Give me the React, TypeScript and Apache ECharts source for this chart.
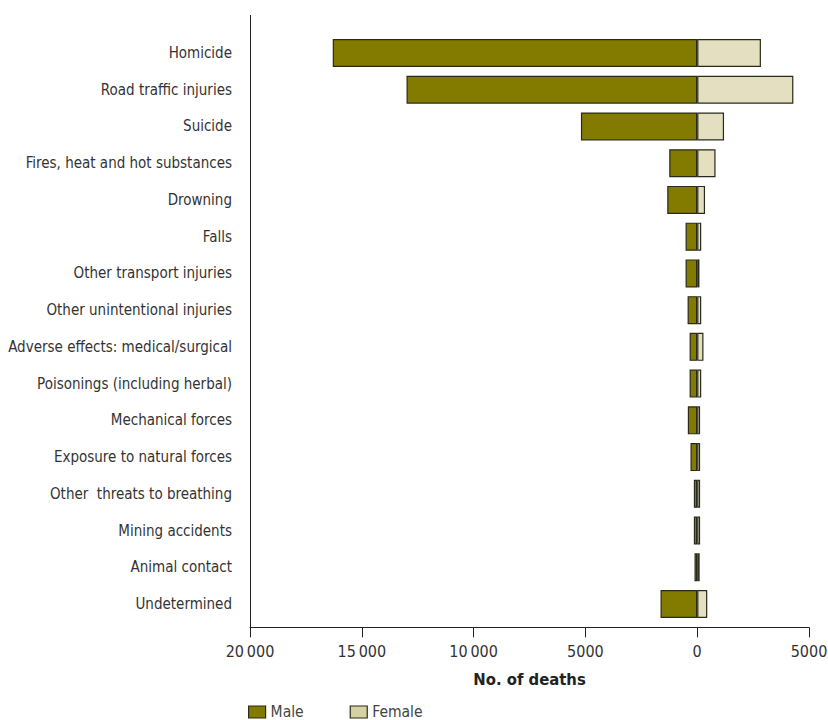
import React, { useEffect, useRef } from "react";
import * as echarts from "echarts";

const categories = [
  "Homicide",
  "Road traffic injuries",
  "Suicide",
  "Fires, heat and hot substances",
  "Drowning",
  "Falls",
  "Other transport injuries",
  "Other unintentional injuries",
  "Adverse effects: medical/surgical",
  "Poisonings (including herbal)",
  "Mechanical forces",
  "Exposure to natural forces",
  "Other  threats to breathing",
  "Mining accidents",
  "Animal contact",
  "Undetermined",
];
const maleDeaths = [16300, 13000, 5200, 1250, 1340, 520, 520, 430, 340, 340, 420, 300, 150, 150, 120, 1640];
const femaleDeaths = [2850, 4300, 1200, 820, 350, 180, 100, 180, 280, 180, 130, 130, 130, 130, 110, 450];
const tickValues = [-20000, -15000, -10000, -5000, 0, 5000];

const FONT = "'DejaVu Sans Condensed', 'Liberation Sans Narrow', 'Roboto', sans-serif";

function fmt(v: number): string {
  const a = Math.abs(v);
  if (a >= 10000) {
    const s = String(a);
    return s.slice(0, s.length - 3) + "\u2009" + s.slice(s.length - 3);
  }
  return String(a);
}

export default function App() {
  const ref = useRef<HTMLDivElement>(null);
  useEffect(() => {
    document.body.style.margin = "0";
    const chart = echarts.init(ref.current!, null, { renderer: "svg" });
    chart.setOption({
      animation: false,
      backgroundColor: "#ffffff",
      textStyle: { fontFamily: FONT },
      grid: {
        left: 250,
        right: 19,
        top: 34.6,
        height: 587.8,
        containLabel: false,
        outerBoundsMode: "none",
      },
      legend: {
        left: 248,
        top: 704,
        icon: "rect",
        itemWidth: 17,
        itemHeight: 12,
        itemGap: 46,
        padding: 0,
        textStyle: { fontFamily: FONT, fontSize: 15.5, color: "#444" },
        data: [
          { name: "Male", itemStyle: { color: "#837A00", borderColor: "#2a2a1a", borderWidth: 1.2 } },
          { name: "Female", itemStyle: { color: "#D6D1A2", borderColor: "#2a2a1a", borderWidth: 1.2 } },
        ],
      },
      graphic: [
        {
          type: "line",
          shape: { x1: 250.5, y1: 15, x2: 250.5, y2: 628 },
          style: { stroke: "#222", lineWidth: 1 },
          silent: true,
        },
      ],
      xAxis: {
        type: "value",
        min: -20000,
        max: 5000,
        interval: 5000,
        offset: 5,
        axisLine: { show: true, lineStyle: { color: "#222", width: 1 } },
        axisTick: { show: true, inside: false, length: 10, lineStyle: { color: "#222" } },
        splitLine: { show: false },
        axisLabel: {
          formatter: (v: number) => (tickValues.includes(v) ? fmt(v) : ""),
          fontSize: 16,
          color: "#333",
          fontFamily: FONT,
          margin: 16,
          showMaxLabel: true,
          showMinLabel: true,
        },
        name: "No. of deaths",
        nameLocation: "middle",
        nameGap: 44,
        nameTextStyle: { fontSize: 16.5, fontWeight: "bold", color: "#222", fontFamily: FONT },
      },
      yAxis: {
        type: "category",
        data: categories,
        inverse: true,
        axisLine: { show: false },
        axisTick: { show: false },
        axisLabel: { fontSize: 15, color: "#333", fontFamily: FONT, margin: 18 },
      },
      series: [
        {
          name: "Male",
          type: "bar",
          stack: "deaths",
          barWidth: 28,
          data: maleDeaths.map((v) => -v),
          itemStyle: { color: "#837A00", borderColor: "#2a2a1a", borderWidth: 1.2 },
        },
        {
          name: "Female",
          type: "bar",
          stack: "deaths",
          barWidth: 28,
          data: femaleDeaths,
          itemStyle: { color: "#E3DFC0", borderColor: "#2a2a1a", borderWidth: 1.2 },
        },
      ],
    });
    return () => chart.dispose();
  }, []);
  return <div ref={ref} style={{ width: 828, height: 720 }} />;
}
